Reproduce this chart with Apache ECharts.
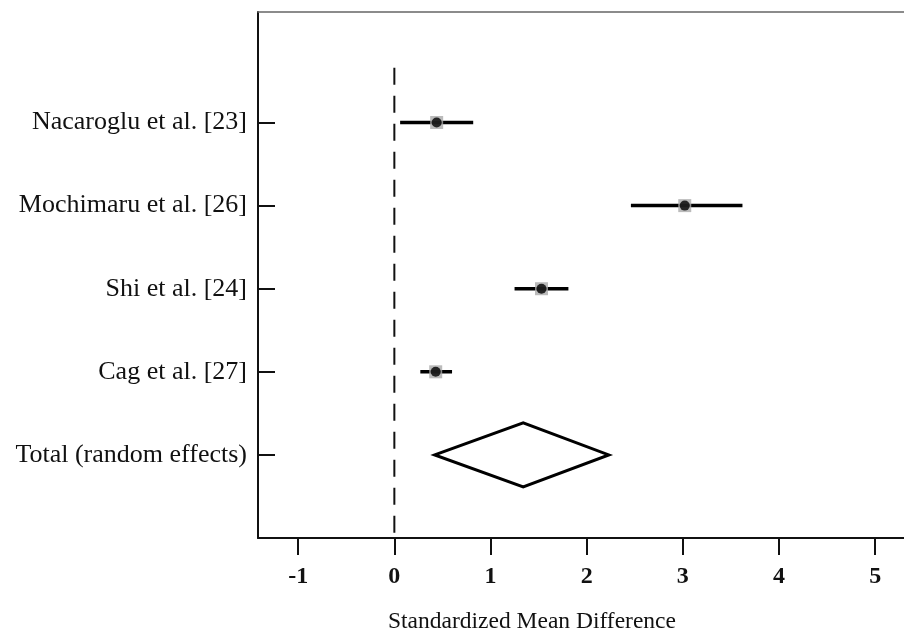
<!DOCTYPE html>
<html>
<head>
<meta charset="utf-8">
<script src="https://cdn.jsdelivr.net/npm/echarts@6/dist/echarts.min.js"></script>
<style>
html,body{margin:0;padding:0;background:#fff;}
#chart{width:904px;height:633px;}
</style>
</head>
<body>
<div id="chart"></div>
<script>
// ---- data ----
var studies = ['Nacaroglu et al. [23]', 'Mochimaru et al. [26]', 'Shi et al. [24]', 'Cag et al. [27]'];
var studyRows = [5, 4, 3, 2];
var studyEffect = [0.44, 3.02, 1.53, 0.43];
var studyLower = [0.06, 2.46, 1.25, 0.27];
var studyUpper = [0.82, 3.62, 1.81, 0.60];
var totalLabel = 'Total (random effects)';
var totalRow = 1;
var totalEffect = 1.34;
var totalLower = 0.42;
var totalUpper = 2.23;
var xTicks = [-1, 0, 1, 2, 3, 4, 5];
var xTitle = 'Standardized Mean Difference';

var rowLabels = {};
studies.forEach(function (s, i) { rowLabels[studyRows[i]] = s; });
rowLabels[totalRow] = totalLabel;
var allRows = studyRows.concat([totalRow]);

var ciData = studies.map(function (s, i) { return [studyLower[i], studyUpper[i], studyRows[i]]; });
var ptData = studies.map(function (s, i) { return [studyEffect[i], studyRows[i]]; });

var FONT = '"Liberation Serif", "Times New Roman", serif';

var chart = echarts.init(document.getElementById('chart'), null, {renderer: 'canvas'});
chart.setOption({
  backgroundColor: '#fff',
  animation: false,
  grid: {left: 258, right: 0, top: 12, bottom: 95, show: false},
  xAxis: [{
    type: 'value', min: -1.418, max: 5.30, position: 'bottom',
    splitLine: {show: false},
    axisLine: {show: true, onZero: false, lineStyle: {color: '#111', width: 2}},
    axisTick: {show: true, customValues: xTicks, length: 17, lineStyle: {color: '#111', width: 2}},
    axisLabel: {
      customValues: xTicks, margin: 27, color: '#111',
      fontFamily: FONT, fontSize: 24, fontWeight: 'bold'
    }
  }, {
    type: 'value', min: -1.418, max: 5.30, position: 'top',
    splitLine: {show: false},
    axisLine: {show: true, onZero: false, lineStyle: {color: '#666', width: 1.5}},
    axisTick: {show: false}, axisLabel: {show: false}
  }],
  yAxis: {
    type: 'value', min: 0, max: 6.33,
    splitLine: {show: false},
    axisLine: {show: true, onZero: false, lineStyle: {color: '#111', width: 2}},
    axisTick: {show: true, inside: true, customValues: allRows, length: 17, lineStyle: {color: '#111', width: 2}},
    axisLabel: {
      customValues: allRows, margin: 11, color: '#111',
      fontFamily: FONT, fontSize: 26,
      formatter: function (v) { return rowLabels[v] || ''; }
    }
  },
  graphic: [{
    type: 'text', x: 532, y: 622,
    style: {text: xTitle, fill: '#111', font: '23.5px ' + FONT, textAlign: 'center', textVerticalAlign: 'middle'}
  }],
  series: [
    {
      type: 'custom', name: 'null line', silent: true,
      data: [[0, 0, 5.66]],
      renderItem: function (params, api) {
        var a = api.coord([api.value(0), api.value(1)]);
        var b = api.coord([api.value(0), api.value(2)]);
        return {type: 'line', shape: {x1: b[0], y1: b[1], x2: a[0], y2: a[1]},
          style: {stroke: '#111', lineWidth: 2, lineDash: [17, 11]}};
      },
      z: 1
    },
    {
      type: 'custom', name: 'CI', silent: true,
      data: ciData,
      renderItem: function (params, api) {
        var a = api.coord([api.value(0), api.value(2)]);
        var b = api.coord([api.value(1), api.value(2)]);
        return {type: 'line', shape: {x1: a[0], y1: a[1], x2: b[0], y2: b[1]},
          style: {stroke: '#000', lineWidth: 3.5}};
      },
      z: 2
    },
    {
      type: 'scatter', name: 'weight', silent: true,
      data: ptData, symbol: 'rect', symbolSize: 13,
      itemStyle: {color: '#aaaaaa'}, z: 3
    },
    {
      type: 'scatter', name: 'effect', silent: true,
      data: ptData, symbol: 'circle', symbolSize: 10,
      itemStyle: {color: '#000', borderWidth: 0}, z: 4
    },
    {
      type: 'custom', name: 'total', silent: true,
      data: [[totalLower, totalEffect, totalUpper, totalRow]],
      renderItem: function (params, api) {
        var y = api.value(3), h = 0.385;
        var p1 = api.coord([api.value(0), y]);
        var p2 = api.coord([api.value(1), y + h]);
        var p3 = api.coord([api.value(2), y]);
        var p4 = api.coord([api.value(1), y - h]);
        return {type: 'polygon', shape: {points: [p1, p2, p3, p4]},
          style: {fill: '#fff', stroke: '#000', lineWidth: 3, lineJoin: 'miter'}};
      },
      z: 2
    }
  ]
});
</script>
</body>
</html>
